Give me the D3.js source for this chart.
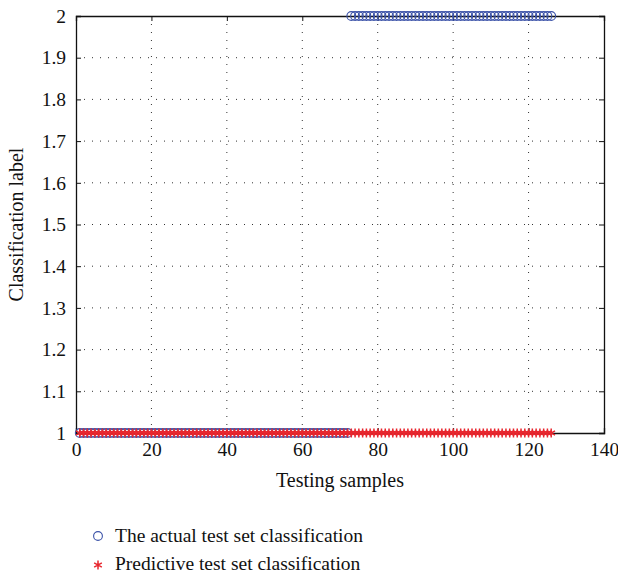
<!DOCTYPE html>
<html>
<head>
<meta charset="UTF-8">
<script src="https://d3js.org/d3.v7.min.js"></script>
<style>
  body { margin: 0; background: #fff; }
  text { font-family: "Liberation Serif", "DejaVu Serif", serif; fill: #111; }
</style>
</head>
<body>
<svg id="chart" width="618" height="575"></svg>
<script>
  // sample index ranges and class labels
  const actualClass1 = d3.range(1, 73);   // samples 1..72 -> class 1
  const actualClass2 = d3.range(73, 127); // samples 73..126 -> class 2
  const predicted = d3.range(1, 127);     // every sample predicted as class 1
  const xTicks = [0, 20, 40, 60, 80, 100, 120, 140];
  const yTicks = [1, 1.1, 1.2, 1.3, 1.4, 1.5, 1.6, 1.7, 1.8, 1.9, 2];
  const legendLabels = ["The actual test set classification", "Predictive test set classification"];

  const actual = actualClass1.map(i => ({ x: i, y: 1 }))
    .concat(actualClass2.map(i => ({ x: i, y: 2 })));
  const pred = predicted.map(i => ({ x: i, y: 1 }));

  const svg = d3.select("#chart");
  const m = { left: 76, right: 604, top: 16, bottom: 433 };

  const x = d3.scaleLinear().domain([0, 140]).range([m.left, m.right]);
  const y = d3.scaleLinear().domain([1, 2]).range([m.bottom, m.top]);

  // dotted grid
  const grid = svg.append("g");
  grid.selectAll(".gx").data(xTicks.slice(1, -1)).enter().append("line")
    .attr("x1", d => x(d)).attr("x2", d => x(d))
    .attr("y1", m.top).attr("y2", m.bottom)
    .attr("stroke", "#333").attr("stroke-width", 1)
    .attr("stroke-dasharray", "1,7");
  grid.selectAll(".gy").data(yTicks.slice(1, -1)).enter().append("line")
    .attr("y1", d => y(d)).attr("y2", d => y(d))
    .attr("x1", m.left).attr("x2", m.right)
    .attr("stroke", "#333").attr("stroke-width", 1)
    .attr("stroke-dasharray", "1,7");

  // axes with inward ticks
  const xAxis = svg.append("g").attr("transform", `translate(0,${m.bottom})`)
    .call(d3.axisBottom(x).tickValues(xTicks).tickSize(-5).tickPadding(8).tickFormat(d3.format("d")));
  const yAxis = svg.append("g").attr("transform", `translate(${m.left},0)`)
    .call(d3.axisLeft(y).tickValues(yTicks).tickSize(-5).tickPadding(10).tickFormat(d => d3.format("")(+d.toFixed(1))));
  svg.append("g").attr("transform", `translate(0,${m.top})`)
    .call(d3.axisTop(x).tickValues(xTicks).tickSize(-5).tickFormat(""));
  svg.append("g").attr("transform", `translate(${m.right},0)`)
    .call(d3.axisRight(y).tickValues(yTicks).tickSize(-5).tickFormat(""));

  svg.selectAll(".domain").attr("stroke", "#111").attr("stroke-width", 1.3);
  svg.selectAll(".tick line").attr("stroke", "#111");
  svg.selectAll(".tick text").style("font-family", "Liberation Serif, serif")
    .style("font-size", "19.5px").attr("fill", "#111");
  xAxis.selectAll(".tick text").attr("dy", "0.75em");

  // markers
  const star = d3.symbol().type(d3.symbolAsterisk).size(55);
  svg.append("g").selectAll("circle").data(actual).enter().append("circle")
    .attr("cx", d => x(d.x)).attr("cy", d => y(d.y)).attr("r", 4.4)
    .attr("fill", "none").attr("stroke", "#3b52a8").attr("stroke-width", 1.1);
  svg.append("g").selectAll("path").data(pred).enter().append("path")
    .attr("d", star)
    .attr("transform", d => `translate(${x(d.x)},${y(d.y)})`)
    .attr("stroke", "#e8262e").attr("stroke-width", 1.5).attr("fill", "none");

  // axis titles
  svg.append("text").attr("x", (m.left + m.right) / 2).attr("y", 487)
    .attr("text-anchor", "middle").style("font-size", "20px").text("Testing samples");
  svg.append("text").attr("transform", `translate(23,${(m.top + m.bottom) / 2}) rotate(-90)`)
    .attr("text-anchor", "middle").style("font-size", "20px").text("Classification label");

  // legend
  const lg = svg.append("g");
  lg.append("circle").attr("cx", 98).attr("cy", 536).attr("r", 4.4)
    .attr("fill", "none").attr("stroke", "#3b52a8").attr("stroke-width", 1.1);
  lg.append("path").attr("d", star).attr("transform", "translate(98,565)")
    .attr("stroke", "#e8262e").attr("stroke-width", 1.5).attr("fill", "none");
  lg.selectAll("text").data(legendLabels).enter().append("text")
    .attr("x", 115).attr("y", (d, i) => 542 + i * 28)
    .style("font-size", "19.5px").text(d => d);
</script>
</body>
</html>
